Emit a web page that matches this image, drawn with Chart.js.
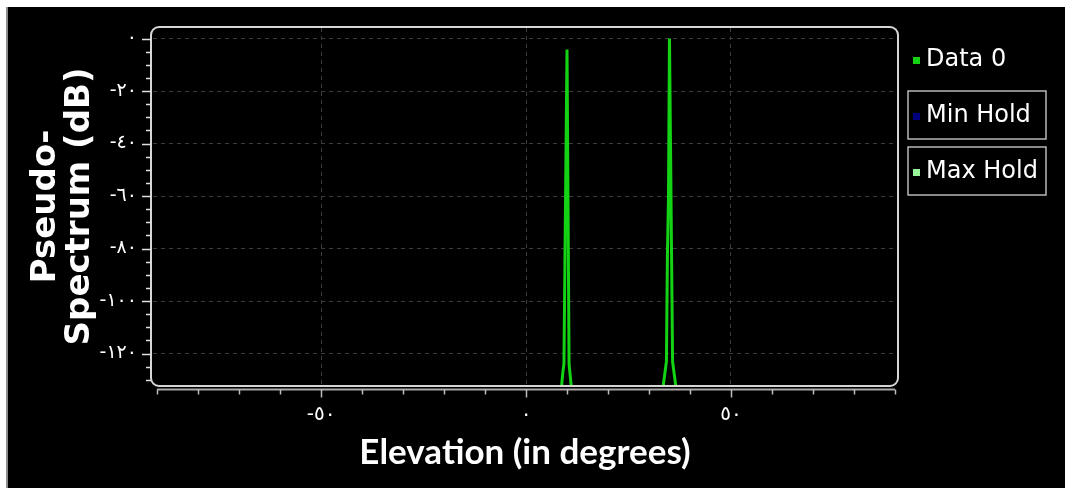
<!DOCTYPE html>
<html>
<head>
<meta charset="utf-8">
<script src="https://cdn.jsdelivr.net/npm/chart.js@4.4.0/dist/chart.umd.min.js"></script>
<style>
html, body { margin: 0; padding: 0; background: #fff; }
#wrap { position: absolute; left: 0; top: 0; width: 1065px; height: 488px; }
</style>
</head>
<body>
<div id="wrap"><canvas id="chart" width="1065" height="488"></canvas></div>
<script>
// elevation (deg) and pseudo-spectrum (dB) of "Data 0"
var elevation = [-90,
    8.5, 8.75, 9.0, 9.25, 9.5, 9.75, 10.0, 10.25, 10.5, 10.75, 11.0, 11.25,
    33.25, 33.5, 33.75, 34.0, 34.25, 34.5, 34.75, 35.0, 35.25, 35.5, 35.75, 36.0, 36.25, 36.5, 36.75,
    90];
var pseudoSpectrum = [-140,
    -140, -131, -127, -124, -84, -44, -4.2, -64, -124, -128, -132, -140,
    -140, -132, -129, -126, -123, -82, -61, 0, -41, -82, -123, -126, -129, -132, -140,
    -140];
var minHold = [];
var maxHold = [];

var seriesNames = ['Data 0', 'Min Hold', 'Max Hold'];
var seriesColors = ['#14d214', '#00007f', '#9af59a'];
var framedLegend = [false, true, true];

var xTickValues = [-90, -80, -70, -60, -50, -40, -30, -20, -10, 0, 10, 20, 30, 40, 50, 60, 70, 80, 90];
var xLabelValues = [-50, 0, 50];
var yTickValues = [-130, -125, -120, -115, -110, -105, -100, -95, -90, -85, -80, -75, -70, -65, -60,
    -55, -50, -45, -40, -35, -30, -25, -20, -15, -10, -5, 0];
var yLabelValues = [-120, -100, -80, -60, -40, -20, 0];
var arabicDigits = ['٠', '١', '٢', '٣', '٤', '٥', '٦', '٧', '٨', '٩'];

function toArabic(v) {
    var s = String(Math.abs(v)).split('').map(function(d) { return arabicDigits[+d]; }).join('');
    return (v < 0 ? '-' : '') + s;
}

var points = elevation.map(function(x, i) { return {x: x, y: pseudoSpectrum[i]}; });

var frame = {
    id: 'frame',
    beforeDraw: function(chart) {
        var ctx = chart.ctx;
        ctx.save();
        ctx.fillStyle = '#ffffff';
        ctx.fillRect(0, 0, chart.width, chart.height);
        ctx.fillStyle = '#000000';
        ctx.fillRect(6, 7, chart.width - 6, chart.height - 7);
        ctx.fillStyle = '#8c8c8c';
        ctx.fillRect(6, 7, 2, chart.height - 7);
        ctx.restore();
    },
    afterDraw: function(chart) {
        var ctx = chart.ctx;
        var a = chart.chartArea;
        var xs = chart.scales.x, ys = chart.scales.y;
        ctx.save();

        // plot box
        ctx.strokeStyle = '#d6d6d6';
        ctx.lineWidth = 2;
        ctx.beginPath();
        ctx.roundRect(a.left - 2, a.top - 1, a.right - a.left + 3, a.bottom - a.top + 2, 8);
        ctx.stroke();

        // x axis line + ticks below the box
        var axY = a.bottom + 4.5;
        ctx.strokeStyle = '#a8a8a8';
        ctx.lineWidth = 2;
        ctx.beginPath();
        ctx.moveTo(xs.getPixelForValue(xTickValues[0]), axY);
        ctx.lineTo(xs.getPixelForValue(xTickValues[xTickValues.length - 1]), axY);
        ctx.stroke();
        ctx.strokeStyle = '#bdbdbd';
        ctx.lineWidth = 1.5;
        xTickValues.forEach(function(v) {
            var px = Math.round(xs.getPixelForValue(v)) + 0.5;
            var len = xLabelValues.indexOf(v) >= 0 ? 8 : 5;
            ctx.beginPath();
            ctx.moveTo(px, axY);
            ctx.lineTo(px, axY + len);
            ctx.stroke();
        });

        // y ticks left of the box
        ctx.strokeStyle = '#e0e0e0';
        yTickValues.forEach(function(v) {
            var py = Math.round(ys.getPixelForValue(v)) + 0.5;
            var len = yLabelValues.indexOf(v) >= 0 ? 9 : 5;
            ctx.beginPath();
            ctx.moveTo(a.left - 2, py);
            ctx.lineTo(a.left - 2 - len, py);
            ctx.stroke();
        });

        // legend
        ctx.font = '24px "DejaVu Sans"';
        ctx.textBaseline = 'middle';
        ctx.textAlign = 'left';
        var lx = a.right + 16, ly = 60;
        seriesNames.forEach(function(name, i) {
            var cy = ly + i * 56;
            if (framedLegend[i]) {
                ctx.strokeStyle = '#b8b8b8';
                ctx.lineWidth = 1.5;
                ctx.strokeRect(a.right + 11, cy - 25, 138, 48);
            }
            ctx.fillStyle = seriesColors[i];
            ctx.fillRect(lx, cy - 3, 7, 7);
            ctx.fillStyle = '#ffffff';
            ctx.fillText(name, lx + 13, cy);
        });
        ctx.restore();
    }
};

new Chart(document.getElementById('chart').getContext('2d'), {
    type: 'line',
    data: {
        datasets: [
            {label: seriesNames[0], data: points, borderColor: seriesColors[0], borderWidth: 3,
             pointRadius: 0, tension: 0, fill: false},
            {label: seriesNames[1], data: minHold, borderColor: seriesColors[1], borderWidth: 2, pointRadius: 0},
            {label: seriesNames[2], data: maxHold, borderColor: seriesColors[2], borderWidth: 2, pointRadius: 0}
        ]
    },
    options: {
        responsive: false,
        animation: false,
        devicePixelRatio: 1,
        layout: { padding: { left: 0, right: 168, top: 28, bottom: 0 } },
        plugins: {
            legend: { display: false },
            tooltip: { enabled: false }
        },
        scales: {
            x: {
                type: 'linear',
                min: -91,
                max: 90.5,
                afterBuildTicks: function(scale) {
                    scale.ticks = xTickValues.map(function(v) { return {value: v}; });
                },
                afterFit: function(scale) { scale.height = 103; },
                border: { display: false, dash: [4, 4] },
                grid: {
                    drawTicks: false,
                    lineWidth: 1,
                    color: function(c) {
                        return c.tick && xLabelValues.indexOf(c.tick.value) >= 0 ? '#3c3c3c' : 'transparent';
                    }
                },
                ticks: {
                    autoSkip: false,
                    maxRotation: 0,
                    padding: 18,
                    color: '#ffffff',
                    font: { family: '"DejaVu Sans"', size: 20 },
                    callback: function(v) { return xLabelValues.indexOf(v) >= 0 ? toArabic(v) : ''; }
                },
                title: {
                    display: true,
                    text: 'Elevation (in degrees)',
                    color: '#ffffff',
                    font: { family: 'Lato, "Liberation Sans"', size: 35, weight: 'bold', lineHeight: 1.2 },
                    padding: { top: 0, bottom: 14 }
                }
            },
            y: {
                type: 'linear',
                min: -132,
                max: 4,
                afterBuildTicks: function(scale) {
                    scale.ticks = yTickValues.map(function(v) { return {value: v}; });
                },
                afterFit: function(scale) { scale.width = 153; },
                border: { display: false, dash: [4, 4] },
                grid: {
                    drawTicks: false,
                    lineWidth: 1,
                    color: function(c) {
                        return c.tick && yLabelValues.indexOf(c.tick.value) >= 0 ? '#3c3c3c' : 'transparent';
                    }
                },
                ticks: {
                    autoSkip: false,
                    padding: 16,
                    color: '#ffffff',
                    font: { family: '"DejaVu Sans"', size: 19 },
                    callback: function(v) { return yLabelValues.indexOf(v) >= 0 ? toArabic(v) : ''; }
                },
                title: {
                    display: true,
                    text: ['Pseudo-', 'Spectrum (dB)'],
                    color: '#ffffff',
                    font: { family: '"DejaVu Sans"', size: 34, weight: 'bold', lineHeight: 0.98 },
                    padding: { top: 30, bottom: 0 }
                }
            }
        }
    },
    plugins: [frame]
});
</script>
</body>
</html>
